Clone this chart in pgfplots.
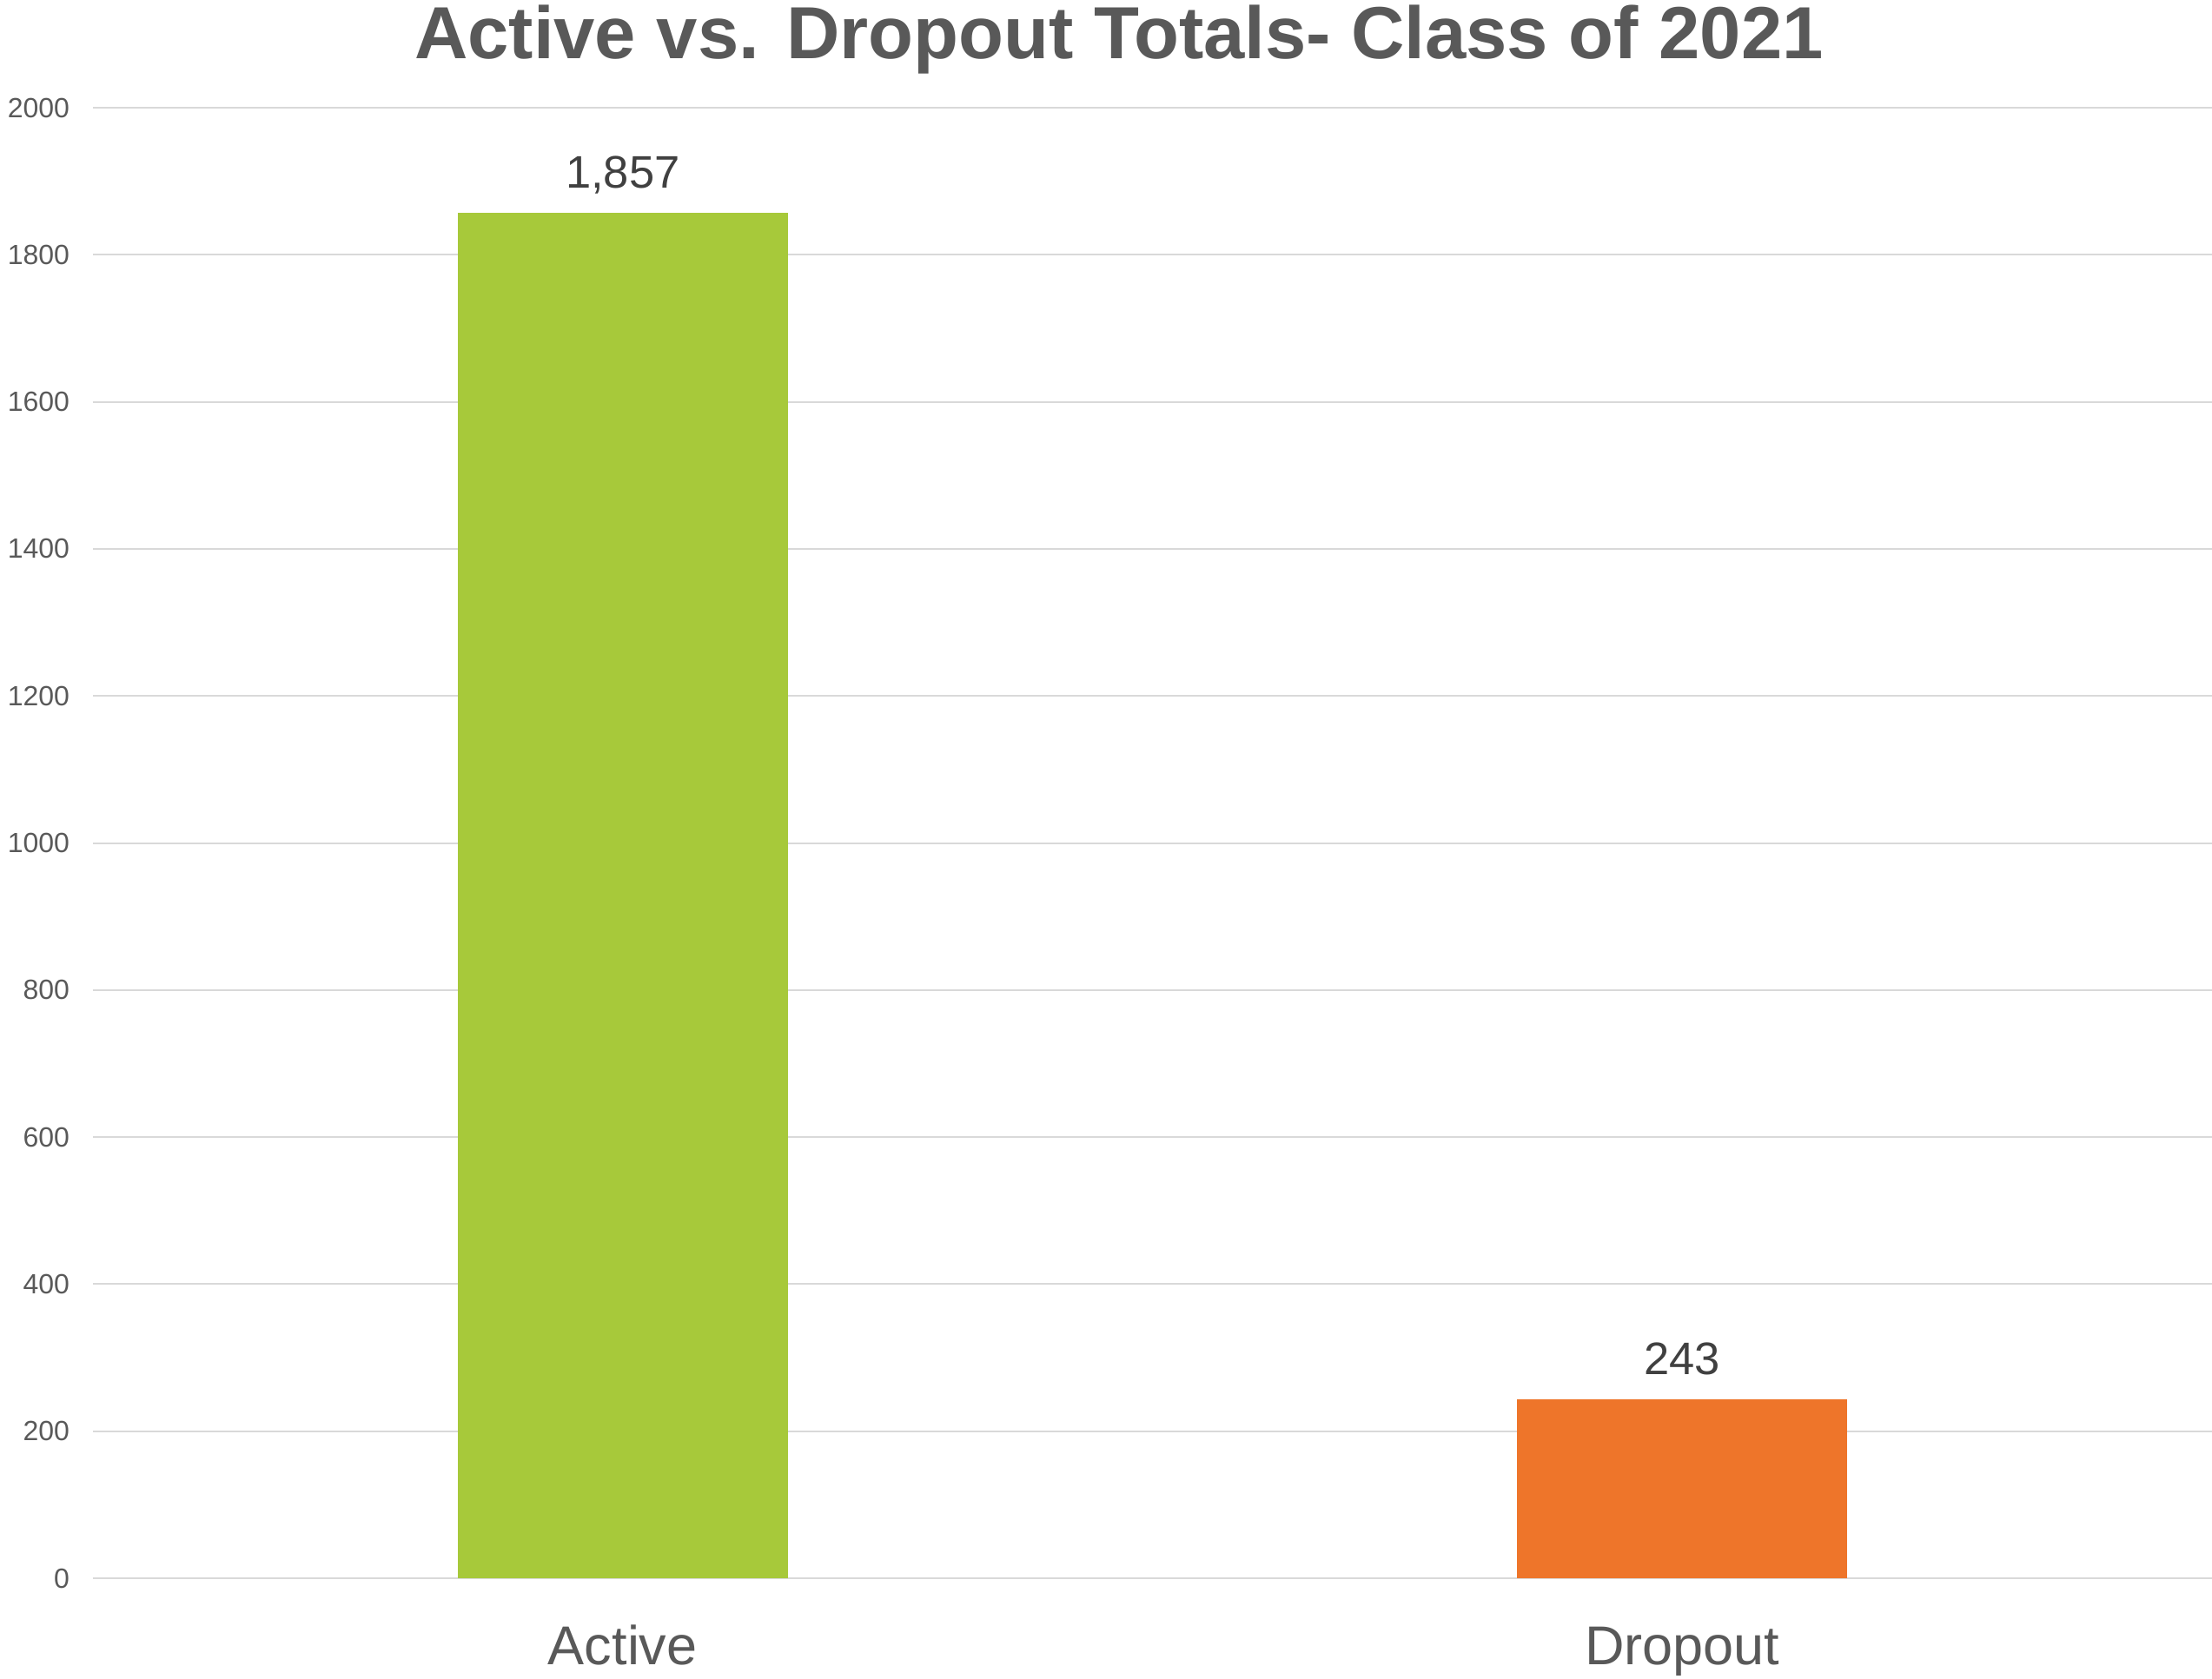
\documentclass[border=0pt]{standalone}
\usepackage{pgfplots}
\pgfplotsset{compat=1.18}
\usepackage{fontspec}
\setmainfont{Liberation Sans}
\definecolor{barGreen}{HTML}{A7C93A}
\definecolor{barOrange}{HTML}{EE752A}
\definecolor{txtGray}{HTML}{595959}
\definecolor{lblGray}{HTML}{404040}
\definecolor{gridGray}{HTML}{D9D9D9}
\begin{document}
\begin{tikzpicture}
\begin{axis}[
  at={(0,0)}, anchor=south west,
  scale only axis,
  width=487.8pt, height=338.6pt,
  xmin=-0.5, xmax=1.5,
  ymin=0, ymax=2000,
  xtick={0,1},
  xticklabels={Active,Dropout},
  ytick={0,200,...,2000},
  yticklabel style={/pgf/number format/1000 sep={}},
  ymajorgrids,
  grid style={color=gridGray, line width=0.4pt},
  axis line style={draw=none},
  major tick length=0pt,
  /pgf/number format/assume math mode=true,
  yticklabel style={font=\fontsize{6.4pt}{7pt}\selectfont, text=txtGray, inner sep=0pt, anchor=east, xshift=-5.2pt},
  xticklabel style={font=\fontsize{12.6pt}{14pt}\selectfont, text=txtGray, inner sep=0pt, anchor=base, yshift=-19.8pt},
  ybar, bar width=76pt, bar shift=0pt,
  nodes near coords,
  point meta=y,
  every node near coord/.append style={font=\fontsize{10.5pt}{12pt}\selectfont, text=lblGray, anchor=base, inner sep=0pt, yshift=5.8pt, /pgf/number format/1000 sep={,}},
]
\addplot[fill=barGreen, draw=none] coordinates {(0,1857)};
\addplot[fill=barOrange, draw=none] coordinates {(1,243)};
\end{axis}
\node[anchor=base, text=txtGray, font=\fontsize{17pt}{20pt}\selectfont\bfseries, inner sep=0pt] at (236.2pt,349.8pt) {Active vs. Dropout Totals- Class of 2021};
\pgfresetboundingbox
\path (-21.4pt,-23pt) rectangle (487.8pt,363.4pt);
\end{tikzpicture}
\end{document}
